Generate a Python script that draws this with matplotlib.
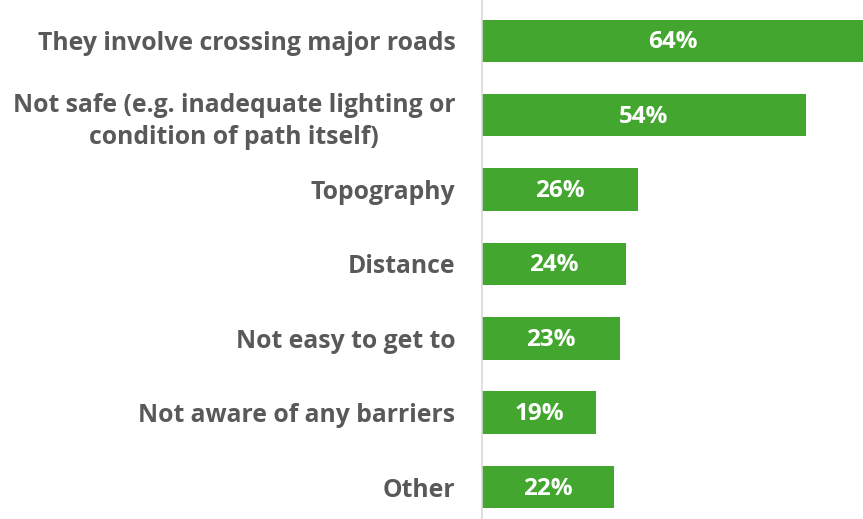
import matplotlib.pyplot as plt
import numpy as np

labels = ['They involve crossing major roads',
          'Not safe (e.g. inadequate lighting or\ncondition of path itself)',
          'Topography',
          'Distance',
          'Not easy to get to',
          'Not aware of any barriers',
          'Other']
values = [64, 54, 26, 24, 23, 19, 22]

plt.rcParams['font.family'] = ['Open Sans', 'DejaVu Sans']

fig = plt.figure(figsize=(8.63, 5.19), dpi=100)
ax = fig.add_axes([482/863, 0, 381/863, 1])

y = np.arange(len(values))
ax.barh(y, values, height=0.57, color='#43A62E', left=0)
xmax = 63.5
ax.set_xlim(0, xmax)
ax.set_ylim(6.43, -0.55)

for yi, v in zip(y, values):
    ax.text(min(v, xmax) / 2, yi + 0.02, f'{v}%', ha='center', va='center',
            color='white', fontsize=17.5, fontweight='bold')

ax.set_yticks(y)
ax.set_yticklabels(labels, fontsize=17.8, fontweight='bold', color='#595959',
                   linespacing=1.35)
# two-line label is centred in the original
for t in ax.get_yticklabels():
    t.set_multialignment('center')
ax.tick_params(axis='y', length=0, pad=19)
ax.set_xticks([])
for s in ['top', 'right', 'bottom']:
    ax.spines[s].set_visible(False)
ax.spines['left'].set_color('#D9D9D9')
ax.spines['left'].set_linewidth(1.2)

fig.savefig('out.png', dpi=100)
